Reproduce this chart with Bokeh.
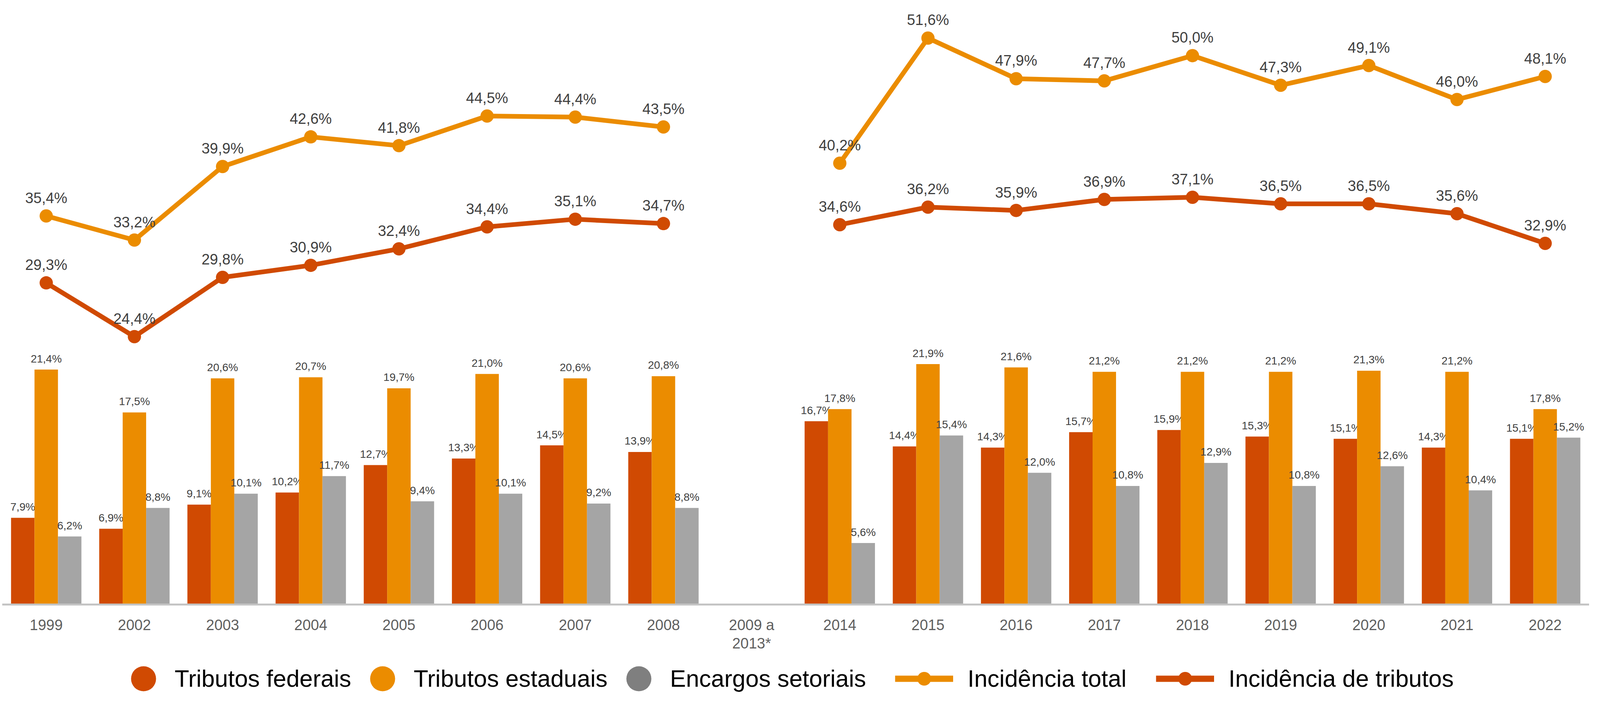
import math
import numpy as np
from bokeh.plotting import figure
from bokeh.models import (ColumnDataSource, FactorRange, Range1d, CategoricalAxis,
                          Legend, LegendItem)
from bokeh.transform import dodge
from bokeh.core.properties import value
from bokeh.embed import file_html
from bokeh.resources import INLINE

NaN = float("nan")

# ---------------- data ----------------
anos = ["1999", "2002", "2003", "2004", "2005", "2006", "2007", "2008", "2009 a\n2013*",
        "2014", "2015", "2016", "2017", "2018", "2019", "2020", "2021", "2022"]
tributos_federais = [7.9, 6.9, 9.1, 10.2, 12.7, 13.3, 14.5, 13.9, NaN,
                     16.7, 14.4, 14.3, 15.7, 15.9, 15.3, 15.1, 14.3, 15.1]
tributos_estaduais = [21.4, 17.5, 20.6, 20.7, 19.7, 21.0, 20.6, 20.8, NaN,
                      17.8, 21.9, 21.6, 21.2, 21.2, 21.2, 21.3, 21.2, 17.8]
encargos_setoriais = [6.2, 8.8, 10.1, 11.7, 9.4, 10.1, 9.2, 8.8, NaN,
                      5.6, 15.4, 12.0, 10.8, 12.9, 10.8, 12.6, 10.4, 15.2]
incidencia_total = [35.4, 33.2, 39.9, 42.6, 41.8, 44.5, 44.4, 43.5, NaN,
                    40.2, 51.6, 47.9, 47.7, 50.0, 47.3, 49.1, 46.0, 48.1]
incidencia_tributos = [29.3, 24.4, 29.8, 30.9, 32.4, 34.4, 35.1, 34.7, NaN,
                       34.6, 36.2, 35.9, 36.9, 37.1, 36.5, 36.5, 35.6, 32.9]

# ---------------- styles ----------------
C_FED = "#D04A02"
C_EST = "#EB8C00"
C_ENC = "#A5A5A5"
FONT = value("Liberation Sans")


def pct(v):
    return "" if math.isnan(v) else f"{v:.1f}%".replace(".", ",")


src = ColumnDataSource(dict(
    ano=anos,
    fed=np.array(tributos_federais, dtype=float),
    est=np.array(tributos_estaduais, dtype=float),
    enc=np.array(encargos_setoriais, dtype=float),
    tot=np.array(incidencia_total, dtype=float),
    tri=np.array(incidencia_tributos, dtype=float),
    fed_lbl=[pct(v) for v in tributos_federais],
    est_lbl=[pct(v) for v in tributos_estaduais],
    enc_lbl=[pct(v) for v in encargos_setoriais],
    tot_lbl=[pct(v) for v in incidencia_total],
    tri_lbl=[pct(v) for v in incidencia_tributos],
))

p = figure(width=4068, height=1772,
           x_range=FactorRange(*anos, range_padding=0, factor_padding=0),
           y_range=Range1d(-8.007, 55.05),
           x_axis_location=None, y_axis_location=None,
           toolbar_location=None, output_backend="svg",
           min_border_left=5, min_border_right=0, min_border_top=0, min_border_bottom=0,
           outline_line_color=None, background_fill_color="white",
           border_fill_color="white")
p.grid.visible = False

# ---------------- bars ----------------
W = 0.266
for off, col, colr in [(-W, "fed", C_FED), (0.0, "est", C_EST), (W, "enc", C_ENC)]:
    p.vbar(x=dodge("ano", off, range=p.x_range), top=col, bottom=0, width=W,
           source=src, fill_color=colr, line_color=None)
    p.text(x=dodge("ano", off, range=p.x_range), y=col, text=col + "_lbl", source=src,
           text_align="center", text_baseline="alphabetic", y_offset=-28,
           text_font=FONT, text_font_size="28px", text_color="#404040")

# ---------------- lines ----------------
for col, colr in [("tot", C_EST), ("tri", C_FED)]:
    p.line(x="ano", y=col, source=src, line_color=colr, line_width=12,
           line_join="round")
    p.scatter(x="ano", y=col, source=src, marker="circle", size=34,
              fill_color=colr, line_color=None)
    p.text(x="ano", y=col, text=col + "_lbl", source=src,
           text_align="center", text_baseline="alphabetic", y_offset=-46,
           text_font=FONT, text_font_size="38px", text_color="#404040")

# ---------------- axis ----------------
xaxis = CategoricalAxis(fixed_location=0)
xaxis.axis_line_color = "#C4C4C4"
xaxis.axis_line_width = 5
xaxis.major_tick_line_color = None
xaxis.minor_tick_line_color = None
xaxis.major_label_standoff = 26
xaxis.major_label_text_font = "Liberation Sans"
xaxis.major_label_text_font_size = "38px"
xaxis.major_label_text_color = "#5F5F5F"
xaxis.major_label_text_line_height = 1.1
p.add_layout(xaxis, "below")

# ---------------- legend ----------------
dummy = ColumnDataSource(dict(x=[anos[0]], y=np.array([NaN])))
r_fed = p.scatter("x", "y", source=dummy, marker="circle", fill_color=C_FED, line_color=None)
r_est = p.scatter("x", "y", source=dummy, marker="circle", fill_color=C_EST, line_color=None)
r_enc = p.scatter("x", "y", source=dummy, marker="circle", fill_color="#7F7F7F", line_color=None)
r_tot_l = p.line("x", "y", source=dummy, line_color=C_EST, line_width=16)
r_tot_m = p.scatter("x", "y", source=dummy, marker="circle", fill_color=C_EST, line_color=None)
r_tri_l = p.line("x", "y", source=dummy, line_color=C_FED, line_width=16)
r_tri_m = p.scatter("x", "y", source=dummy, marker="circle", fill_color=C_FED, line_color=None)

common = dict(orientation="horizontal", padding=0, margin=0, border_line_color=None,
              background_fill_alpha=0, label_text_font="Liberation Sans",
              label_text_font_size="61px", label_text_color="black")

legA = Legend(items=[LegendItem(label="Tributos federais", renderers=[r_fed]),
                     LegendItem(label="Tributos estaduais", renderers=[r_est]),
                     LegendItem(label="Encargos setoriais", renderers=[r_enc])],
              location=(282, -45), glyph_width=160, glyph_height=160,
              label_standoff=0, spacing=0, **common)
legB = Legend(items=[LegendItem(label="Incidência total", renderers=[r_tot_l, r_tot_m]),
                     LegendItem(label="Incidência de tributos", renderers=[r_tri_l, r_tri_m])],
              location=(2286, -9), glyph_width=149, glyph_height=88,
              label_standoff=37, spacing=75, **common)
p.add_layout(legA)
p.add_layout(legB)

open("out.html", "w").write(file_html(p, INLINE))
